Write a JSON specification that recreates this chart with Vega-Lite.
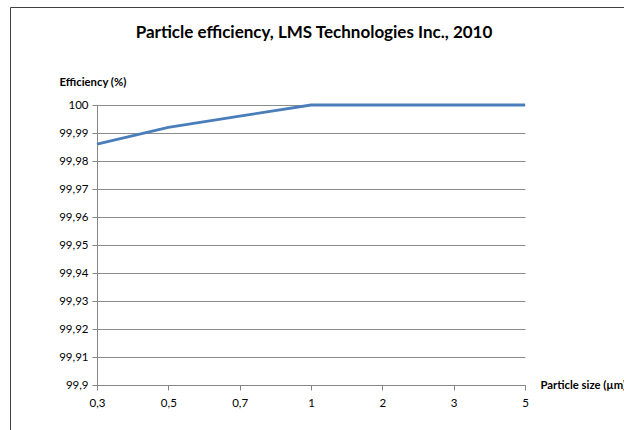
{
  "$schema": "https://vega.github.io/schema/vega-lite/v6.json",
  "width": 616,
  "height": 425,
  "autosize": {"type": "none"},
  "padding": {"left": 10, "top": 7, "right": 0, "bottom": 0},
  "background": "white",
  "title": {
    "text": "Particle efficiency, LMS Technologies Inc., 2010",
    "font": "Lato",
    "fontSize": 17,
    "fontWeight": "bold",
    "color": "#000000",
    "anchor": "middle",
    "frame": "group",
    "baseline": "middle",
    "offset": -43,
    "dx": -4
  },
  "config": {
    "view": {"stroke": "#404040", "strokeWidth": 1},
    "axis": {
      "labelFont": "Lato",
      "labelFontSize": 11.5,
      "labelColor": "#000000",
      "titleFont": "Lato",
      "titleFontSize": 11.3,
      "titleFontWeight": "bold",
      "titleColor": "#000000",
      "domainColor": "#868686",
      "tickColor": "#868686",
      "gridColor": "#8c8c8c",
      "tickSize": 5
    }
  },
  "data": {
    "values": [
      {"size": "0,3", "efficiency": 99.986},
      {"size": "0,5", "efficiency": 99.992},
      {"size": "0,7", "efficiency": 99.996},
      {"size": "1", "efficiency": 100},
      {"size": "2", "efficiency": 100},
      {"size": "3", "efficiency": 100},
      {"size": "5", "efficiency": 100}
    ]
  },
  "mark": {"type": "line", "color": "#4a7ebb", "strokeWidth": 2.8},
  "encoding": {
    "x": {
      "field": "size",
      "type": "ordinal",
      "sort": null,
      "scale": {"type": "point", "range": [87, 515], "padding": 0},
      "axis": {
        "title": "Particle size (µm)",
        "labelAngle": 0,
        "offset": -47,
        "grid": false,
        "labelPadding": 7,
        "titleX": 530,
        "titleY": 0,
        "titleAlign": "left",
        "titleBaseline": "middle",
        "titleAngle": 0
      }
    },
    "y": {
      "field": "efficiency",
      "type": "quantitative",
      "scale": {"domain": [99.9, 100], "range": [378, 98], "nice": false, "zero": false},
      "axis": {
        "title": "Efficiency (%)",
        "offset": -87,
        "values": [99.9, 99.91, 99.92, 99.93, 99.94, 99.95, 99.96, 99.97, 99.98, 99.99, 100],
        "labelExpr": "replace(format(datum.value, '.2~f'), '.', ',')",
        "labelPadding": 4,
        "grid": true,
        "gridWidth": 1.2,
        "titleAngle": 0,
        "titleX": -38,
        "titleY": 75,
        "titleAlign": "left",
        "titleBaseline": "middle"
      }
    }
  }
}
